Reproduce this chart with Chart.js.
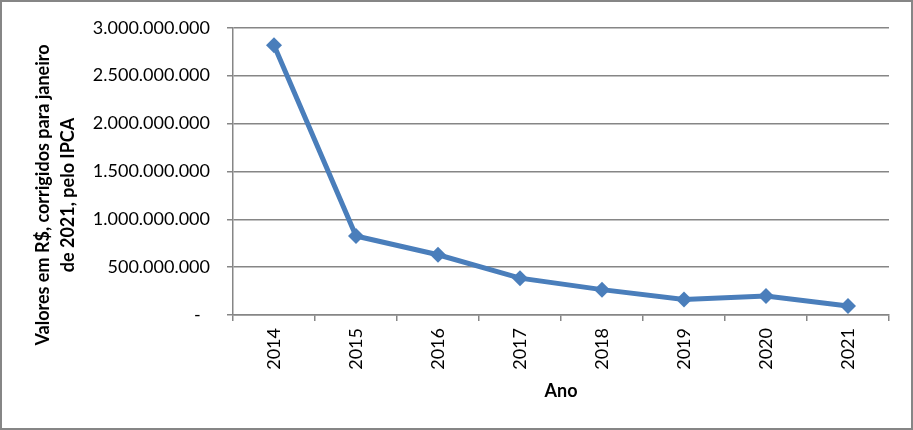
<!DOCTYPE html>
<html>
<head>
<meta charset="utf-8">
<script src="https://cdn.jsdelivr.net/npm/chart.js@4.4.1/dist/chart.umd.min.js"></script>
<style>
  body { margin: 0; background: #fff; }
  canvas { display: block; }
</style>
</head>
<body>
<canvas id="chart" width="913" height="430"></canvas>
<script>
const anos = ['2014', '2015', '2016', '2017', '2018', '2019', '2020', '2021'];
const valores = [2818000000, 825000000, 629000000, 385000000, 265000000, 162000000, 199000000, 93000000];
const tituloY = ['Valores em R$, corrigidos para janeiro', 'de 2021, pelo IPCA'];
const tituloX = 'Ano';

const gridColor = '#868686';
const lineColor = '#4a7ebb';
const fontFamily = 'Lato, "Open Sans", sans-serif';

function formatarValor(v) {
    if (v === 0) return '-  ';
    return String(v).replace(/\B(?=(\d{3})+(?!\d))/g, '.');
}

// borda externa e titulo do eixo Y
const extras = {
    id: 'extras',
    afterDraw(chart) {
        const ctx = chart.ctx;
        ctx.save();
        ctx.strokeStyle = gridColor;
        ctx.lineWidth = 2;
        ctx.strokeRect(1, 1, chart.width - 2, chart.height - 2);

        ctx.fillStyle = '#000';
        ctx.font = 'bold 18px ' + fontFamily;
        ctx.textAlign = 'center';
        ctx.textBaseline = 'middle';
        ctx.translate(0, 195);
        ctx.rotate(-Math.PI / 2);
        ctx.fillText(tituloY[0], 0, 43);
        ctx.fillText(tituloY[1], 0, 68);
        ctx.restore();
    }
};

new Chart(document.getElementById('chart').getContext('2d'), {
    type: 'line',
    data: {
        labels: anos,
        datasets: [{
            data: valores,
            borderColor: lineColor,
            backgroundColor: lineColor,
            borderWidth: 5,
            tension: 0,
            pointStyle: 'rectRot',
            pointRadius: 8,
            pointHoverRadius: 8,
            pointBackgroundColor: lineColor,
            pointBorderColor: lineColor,
            pointBorderWidth: 0
        }]
    },
    options: {
        responsive: false,
        animation: false,
        layout: { padding: { top: 24, right: 24, left: 0, bottom: 0 } },
        plugins: {
            legend: { display: false },
            tooltip: { enabled: false }
        },
        scales: {
            x: {
                offset: true,
                afterFit(scale) { scale.height = 115; },
                grid: {
                    offset: true,
                    drawOnChartArea: false,
                    tickLength: 6,
                    color: gridColor,
                    lineWidth: 1.5
                },
                border: { color: gridColor, width: 1.5 },
                ticks: {
                    minRotation: 90,
                    maxRotation: 90,
                    padding: 7,
                    color: '#000',
                    font: { family: fontFamily, size: 18 }
                },
                title: {
                    display: true,
                    text: tituloX,
                    color: '#000',
                    font: { family: fontFamily, size: 18, weight: 'bold', lineHeight: 1.2 },
                    padding: { top: 0, bottom: 28 }
                }
            },
            y: {
                min: 0,
                max: 3000000000,
                afterFit(scale) { scale.width = 233; },
                grid: {
                    tickLength: 6,
                    color: gridColor,
                    lineWidth: 1.5
                },
                border: { color: gridColor, width: 1.5 },
                ticks: {
                    stepSize: 500000000,
                    padding: 17,
                    color: '#000',
                    font: { family: fontFamily, size: 18 },
                    callback: (v) => formatarValor(v)
                }
            }
        }
    },
    plugins: [extras]
});
</script>
</body>
</html>
